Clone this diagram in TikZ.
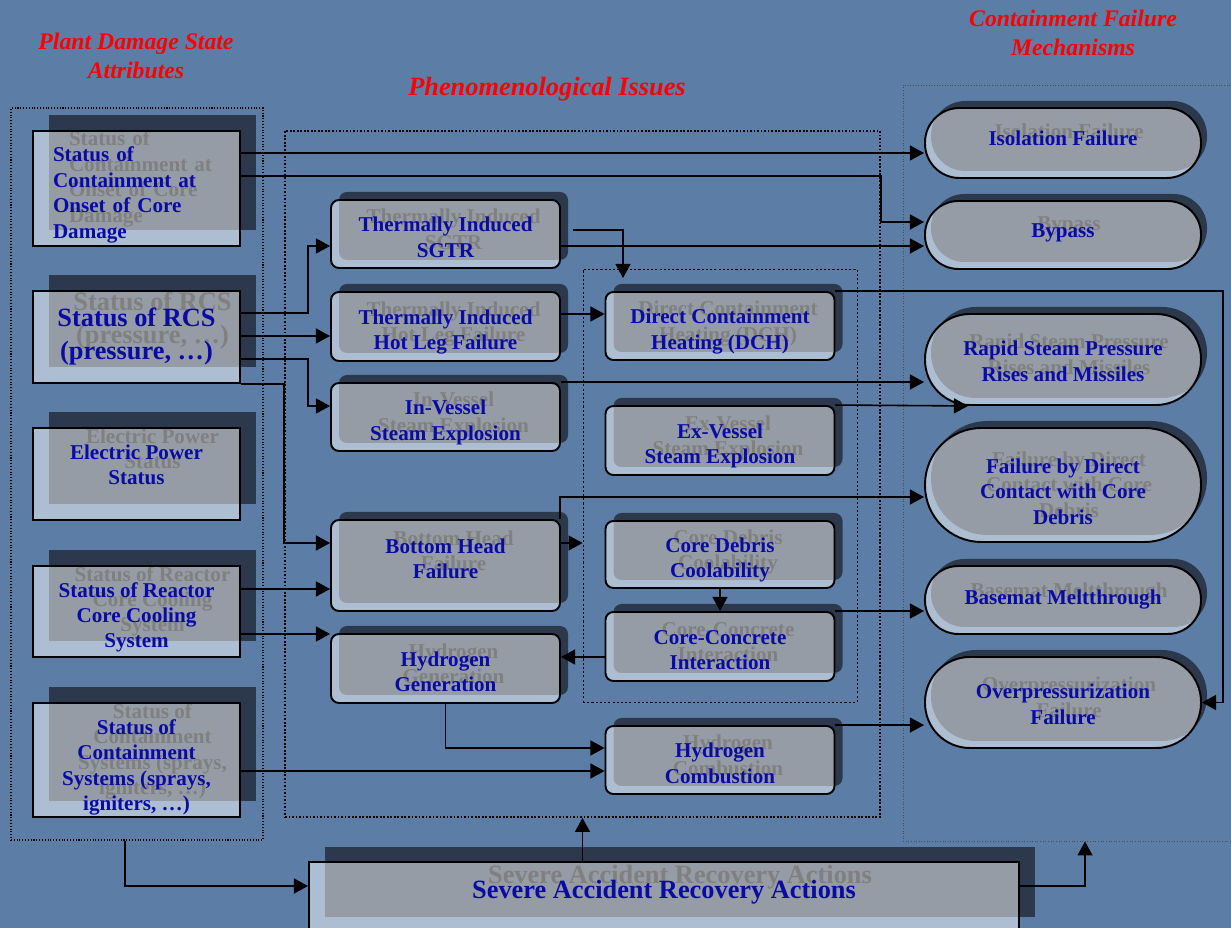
\documentclass[tikz,border=0pt]{standalone}
\usepackage{fontspec}
\setmainfont{Liberation Serif}
\usetikzlibrary{arrows.meta,calc}
\definecolor{slide}{RGB}{92,126,166}
\definecolor{shade}{RGB}{44,57,76}
\definecolor{ink}{RGB}{10,10,165}
\definecolor{title}{RGB}{255,0,0}
\tikzset{>/.tip={Triangle[length=8pt,width=8.5pt]}}
\tikzset{
  face/.style={draw=black, line width=1.1pt, fill=white, fill opacity=0.5, text opacity=1, text=ink},
  ghost/.style={fill=shade, text=black},
  vtext/.style={text height=#1, text depth=0pt},
  stat/.style={rectangle, minimum width={207*0.02cm}, minimum height={#1*0.02cm}, inner sep=0pt,
    align=center, font=\bfseries\fontsize{12}{14.5}\selectfont},
  issue/.style={rectangle, rounded corners={8*0.02cm}, minimum width={229*0.02cm}, minimum height={#1*0.02cm},
    inner sep=0pt, align=center, font=\bfseries\fontsize{12}{14.5}\selectfont, vtext=26.7pt},
  mech/.style={rectangle, rounded corners={#1*0.01cm-0.3pt}, minimum width={276*0.02cm}, minimum height={#1*0.02cm},
    inner sep=0pt, align=center, font=\bfseries\fontsize{12}{14.5}\selectfont},
  frame/.style 2 args={rectangle, draw=black, minimum width={#1*0.02cm}, minimum height={#2*0.02cm}, inner sep=0pt},
  heading/.style={text=title, align=center, font=\bfseries\itshape\fontsize{13.5}{16.5}\selectfont},
}
% box with its offset shadow: style, shift, name, position, text
\newcommand{\castnode}[5]{%
  \node[#1, ghost] at ($(#4)+(#2)$) {#5};
  \node[#1, face] (#3) at (#4) {#5};}

\begin{document}
\begin{tikzpicture}[x=0.02cm, y=-0.02cm, line width=0.9pt]
\useasboundingbox (0,0) rectangle (1231,928);
\fill[slide] (0,0) rectangle (1231,928);

% dotted groups
\node[frame={252}{732}, densely dotted, line width=0.6pt] (pdsa) at (137,474) {};
\node[frame={595}{686}, densely dotted, line width=1pt] (phen) at (582.5,474) {};
\node[frame={274}{433}, dash pattern=on 1.2pt off 1.2pt, line width=0.5pt] (exves) at (720,485.5) {};
\node[frame={364}{756}, densely dotted, line width=0.5pt, draw=black!70] (cfm) at (1085,463) {};
\coordinate (rcsbus) at (308,0);
\coordinate (rbus) at (1223,0);

\node[heading] (pdsh) at (136,56) {Plant Damage State\\Attributes};
\node[heading] (cfmh) at (1073,32.5) {Containment Failure\\Mechanisms};
\node[heading, font=\bfseries\itshape\fontsize{15}{18}\selectfont] (phenh) at (547,89) {Phenomenological Issues};

% plant damage state attributes
\castnode{stat=115, align=left, text width=3.34cm, text height=0pt, text depth=30.2pt}{16,-16}{PDSc}{136.5,188.5}{Status of\\Containment at\\Onset of Core\\Damage}
\castnode{stat=92, font=\bfseries\fontsize{15}{18.8}\selectfont, vtext=25.8pt}{16,-16}{RCS}{136.5,337}{Status of RCS\\(pressure, …)}
\castnode{stat=92, vtext=12.5pt}{16,-16}{EPS}{136.5,474}{Electric Power\\Status}
\castnode{stat=91, vtext=41.5pt}{16,-16}{RCCS}{136.5,611.5}{Status of Reactor\\Core Cooling\\System}
\castnode{stat=114, vtext=58pt}{16,-16}{CSys}{136.5,760}{Status of\\Containment\\Systems (sprays,\\igniters, …)}

% phenomenological issues
\castnode{issue=68}{8,-8}{SGTR}{445.5,234}{Thermally Induced\\SGTR}
\castnode{issue=69}{8,-8}{HLF}{445.5,326.5}{Thermally Induced\\Hot Leg Failure}
\castnode{issue=68}{8,-8}{IVSE}{445.5,417}{In-Vessel\\Steam Explosion}
\castnode{issue=91, text depth=11.4pt}{8,-8}{BHF}{445.5,565.5}{Bottom Head\\Failure}
\castnode{issue=69}{8,-8}{H2G}{445.5,668.5}{Hydrogen\\Generation}
\castnode{issue=68}{8,-8}{DCH}{720,326}{Direct Containment\\Heating (DCH)}
\castnode{issue=69}{8,-8}{EVSE}{720,440.5}{Ex-Vessel\\Steam Explosion}
\castnode{issue=67}{8,-8}{CDC}{720,554.5}{Core Debris\\Coolability}
\castnode{issue=69}{8,-8}{CCI}{720,646.5}{Core-Concrete\\Interaction}
\castnode{issue=68}{8,-8}{H2C}{720,760}{Hydrogen\\Combustion}

% containment failure mechanisms
\castnode{mech=70, vtext=3.4pt}{6,-7}{ISO}{1063,143}{Isolation Failure}
\castnode{mech=68, vtext=3.4pt}{6,-7}{BYP}{1063,235}{Bypass}
\castnode{mech=91, vtext=24.5pt}{6,-7}{RSP}{1063,359.5}{Rapid Steam Pressure\\Rises and Missiles}
\castnode{mech=114, vtext=44.4pt}{6,-7}{DCF}{1063,485}{Failure by Direct\\Contact with Core\\Debris}
\castnode{mech=68, vtext=4.6pt}{6,-7}{BMT}{1063,600}{Basemat Meltthrough}
\castnode{mech=91, vtext=24.5pt}{6,-7}{OPF}{1063,702.5}{Overpressurization\\Failure}

\castnode{stat=70, minimum width={710*0.02cm}, font=\bfseries\fontsize{15}{18}\selectfont, text depth=8.4pt}{16,-15}{SARA}{664,897}{Severe Accident Recovery Actions}

% connectors
\draw[->] (PDSc.east |- 0,153) -- (ISO.west |- 0,153);
\draw[->] (PDSc.east |- 0,176) -| (phen.east |- 0,222) -- (BYP.west |- 0,222);
\draw[->] (SGTR.east |- 0,246) -- (BYP.west |- 0,246);
\draw[->] ($(SGTR.east |- 0,230)+(12,0)$) -| ($(DCH.north)+(-97,-13)$);
\draw[->] (RCS.east |- 0,313) -| (rcsbus |- 0,246) -- (SGTR.west |- 0,246);
\draw[->] (RCS.east |- 0,336) -- (HLF.west |- 0,336);
\draw[->] (RCS.east |- 0,359) -| (rcsbus |- 0,406) -- (IVSE.west |- 0,406);
\draw[->] (RCS.south east) -| (phen.west |- 0,543) -- (BHF.west |- 0,543);
\draw[->] (RCCS.east |- 0,589) -- (BHF.west |- 0,589);
\draw[->] (RCCS.east |- 0,634) -- (H2G.west |- 0,634);
\draw[->] (CSys.east |- 0,771) -- (H2C.west |- 0,771);
\draw[->] (H2G.south) |- (H2C.west |- 0,748);
\draw[->] (CCI.west |- 0,657) -- (H2G.east |- 0,657);
\draw[->] (CDC.south) -- (CCI.north);
\draw[->] (BHF.east |- 0,543) -- (exves.west |- 0,543);
\draw[->] ($(BHF.north east)+(-1,0)$) |- (DCF.west |- 0,497);
\draw[->] (HLF.east |- 0,314) -- (DCH.west |- 0,314);
\draw[->] (DCH.north east) -| (rbus |- OPF.east) -- (OPF.east);
\draw[->] (EVSE.north east) -- ($(RSP.south)+(-95,0)$);
\draw[->] (IVSE.north east) -- (RSP.west |- IVSE.north east);
\draw[->] (CCI.north east) -- (BMT.west |- CCI.north east);
\draw[->] (H2C.north east) -- (OPF.west |- H2C.north east);
\draw[->] ($(pdsa.south)+(-12,0)$) |- (SARA.west |- 0,886);
\draw[->] (phen.south |- SARA.north) -- (phen.south);
\draw[->] (SARA.east |- 0,886) -| (cfm.south);
\end{tikzpicture}
\end{document}
